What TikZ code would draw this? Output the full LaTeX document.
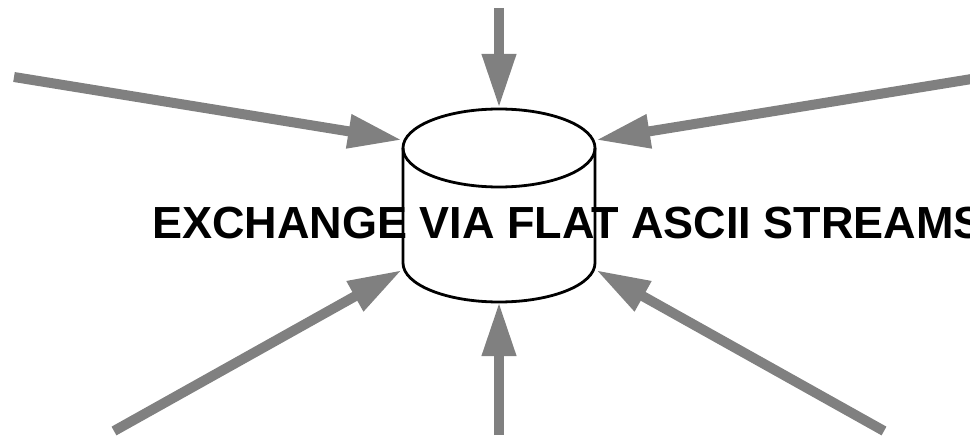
\documentclass[tikz,border=0pt]{standalone}
\usepackage{fontspec}
\setmainfont{Liberation Sans}
\usetikzlibrary{arrows.meta}
\definecolor{arrowgray}{RGB}{128,128,128}
\tikzset{
  feed/.style={draw=arrowgray, line width=10pt, -{Triangle[length=54pt,width=32pt]}},
  drum/.style={draw=black, line width=2.8pt},
  label/.style={font=\fontsize{45}{52}\selectfont\bfseries, anchor=base, inner sep=0pt}
}
\begin{document}
\begin{tikzpicture}[x=1pt,y=-1pt]
\useasboundingbox (0,0) rectangle (970,436);
% cylinder
\draw[drum, fill=white] (403,148) -- (403,263) arc[start angle=180, end angle=0, x radius=96, y radius=39] -- (595,148);
\draw[drum] (499,148) ellipse[x radius=96, y radius=39];
% text
\node[label] (txt) at (568,238) {EXCHANGE VIA FLAT ASCII STREAMS};
% arrow end points
\coordinate (sT) at (499,8);    \coordinate (eT) at (499,108);
\coordinate (sB) at (499,435);  \coordinate (eB) at (499,302);
\coordinate (sTL) at (14,77);   \coordinate (eTL) at (402,140);
\coordinate (sTR) at (984,77);  \coordinate (eTR) at (596,140);
\coordinate (sBL) at (114,431); \coordinate (eBL) at (402,270);
\coordinate (sBR) at (884,431); \coordinate (eBR) at (596,270);
\draw[feed] (sT) -- (eT);
\draw[feed] (sB) -- (eB);
\draw[feed] (sTL) -- (eTL);
\draw[feed] (sTR) -- (eTR);
\draw[feed] (sBL) -- (eBL);
\draw[feed] (sBR) -- (eBR);
\end{tikzpicture}
\end{document}
